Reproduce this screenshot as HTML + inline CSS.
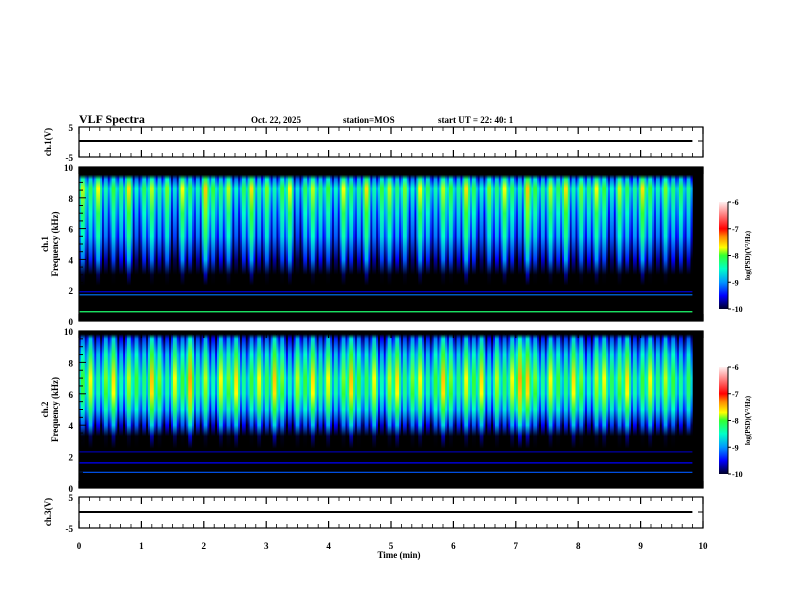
<!DOCTYPE html>
<html><head><meta charset="utf-8"><style>
html,body{margin:0;padding:0;background:#fff;}
svg{display:block;font-family:"Liberation Serif",serif;font-weight:bold;}
</style></head><body>
<svg id="chart" width="792" height="612" viewBox="0 0 792 612" xmlns="http://www.w3.org/2000/svg">
<defs id="defs"></defs>
<rect width="792" height="612" fill="#fff"/>
<text x="79" y="123" font-size="12">VLF Spectra</text>
<text x="251" y="123" font-size="9">Oct. 22, 2025</text>
<text x="343" y="123" font-size="9">station=MOS</text>
<text x="438" y="123" font-size="9">start  UT =  22: 40: 1</text>
<g id="g"></g>
</svg>
<script>
const colP1 = [-7.6,-7.9,-7.5,-8.2,-7.8,-8.0,-7.4,-8.3,-7.9,-7.6,-8.1,-7.7,-8.4,-7.5,-7.9,-8.2,-7.3,-7.8,-8.0,-7.6,-8.3,-7.9,-7.4,-8.1,-7.7,-8.2,-7.8,-7.5,-8.4,-7.9,-7.6,-8.0,-7.8,-8.3,-7.5,-7.9,-8.1,-7.4,-8.2,-7.8,-7.6,-8.0,-7.7,-8.3,-7.5,-7.9,-8.2,-7.6,-7.8,-8.1,-7.4,-7.9,-8.3,-7.7,-8.0,-7.5,-7.9,-8.2,-7.3,-7.8,-8.1,-7.6,-7.9,-7.4,-8.2,-7.7,-8.0,-7.5,-7.8,-8.3,-7.6,-7.9,-8.1,-7.4,-7.8,-8.2,-7.7,-8.0,-7.9,-8.1];
const colP2 = [-7.9,-7.6,-8.2,-7.8,-7.5,-8.3,-7.7,-7.9,-8.1,-7.4,-7.8,-8.2,-7.6,-7.9,-7.3,-8.1,-7.7,-8.3,-7.6,-7.8,-7.5,-8.2,-7.9,-7.6,-8.0,-7.4,-7.8,-8.3,-7.7,-7.9,-7.5,-8.1,-7.6,-8.2,-7.8,-7.4,-7.9,-8.0,-7.6,-8.3,-7.7,-7.5,-8.1,-7.8,-7.6,-8.2,-7.9,-7.4,-7.8,-8.1,-7.6,-7.9,-7.5,-8.3,-7.7,-8.0,-7.6,-7.3,-7.4,-7.8,-8.2,-7.6,-7.9,-8.1,-7.5,-7.8,-8.3,-7.7,-7.6,-8.0,-7.8,-7.5,-8.2,-7.9,-7.6,-8.1,-7.7,-7.9,-8.2,-8.0];
const timeTicks = [0,1,2,3,4,5,6,7,8,9,10];
const freqTicks = [0,2,4,6,8,10];
const cbTicks = [-6,-7,-8,-9,-10];
const linesP1 = [[1.9,-9.6],[1.7,-9.1],[0.6,-8.2]];
const linesP2 = [[2.3,-9.7],[1.6,-9.5],[1.0,-9.2]];
const dataEnd = 9.83;

const NS="http://www.w3.org/2000/svg";
const g=document.getElementById('g'), defs=document.getElementById('defs');
const X0=79,X1=703;
const xs=t=>X0+t/10*(X1-X0);
const P1={top:167,bot:321}, P2={top:331,bot:488}, C1={top:127,bot:157,line:141}, C3={top:497,bot:528,line:512};
const fy=(f,p)=>p.bot-f/10*(p.bot-p.top);
const cstops=[[-10,[0,0,40]],[-9.5,[0,0,255]],[-9,[0,150,255]],[-8.5,[0,255,200]],[-8,[50,255,50]],[-7.7,[255,255,0]],[-7.3,[255,140,0]],[-7,[255,0,0]],[-6.5,[255,120,120]],[-6,[255,240,240]]];
function col(v){
  if(v<=-10.3) return 'rgb(0,0,0)';
  if(v<-10){const k=(v+10.3)/0.3;return `rgb(0,0,${Math.round(40*k)})`;}
  if(v>=-6) return 'rgb(255,240,240)';
  for(let i=0;i<cstops.length-1;i++){const a=cstops[i],b=cstops[i+1];
    if(v>=a[0]&&v<=b[0]){const k=(v-a[0])/(b[0]-a[0]);const c=a[1].map((x,j)=>Math.round(x+(b[1][j]-x)*k));return `rgb(${c})`;}}
}
function el(tag,attrs,parent){const e=document.createElementNS(NS,tag);for(const k in attrs)e.setAttribute(k,attrs[k]);(parent||g).appendChild(e);return e;}
function txt(x,y,s,size,anchor,rot){const t=el('text',{x:x,y:y,'font-size':size,'text-anchor':anchor||'start'});if(rot)t.setAttribute('transform',`rotate(${rot} ${x} ${y})`);t.textContent=s;return t;}

function spectro(p,vals,lines,profile,name){
  const bg=el('rect',{x:X0,y:p.top,width:X1-X0,height:p.bot-p.top,fill:'#000'});
  
  
  const dt=dataEnd/vals.length;
  vals.forEach((v,i)=>{
    const idA=name+'a'+i, idB=name+'b'+i;
    const la=el('linearGradient',{id:idA,x1:0,y1:0,x2:0,y2:1},defs);
    const lb=el('linearGradient',{id:idB,x1:0,y1:0,x2:0,y2:1},defs);
    profile.forEach(([f,d])=>{const o=(fy(f,p)-p.top)/(p.bot-p.top);
      el('stop',{offset:o,'stop-color':col(v+d-0.6)},la);
      el('stop',{offset:o,'stop-color':col(v+d)},lb);});
    const x=xs(i*dt), w=xs((i+1)*dt)-xs(i*dt);
    const r=el('rect',{x:x,y:p.top,width:w+0.3,height:p.bot-p.top,fill:`url(#${idA})`});
    
    
    const s=el('rect',{x:x+w*0.25,y:p.top,width:w*0.5,height:p.bot-p.top,fill:`url(#${idB})`});
    
    
  });
  lines.forEach(([f,v])=>{const l=el('line',{x1:X0,x2:xs(dataEnd),y1:fy(f,p),y2:fy(f,p),stroke:col(v),'stroke-width':1.2});
    
    });
}
const prof1=[[10,-9],[9.5,-9],[9.2,-0.8],[8.6,-0.2],[7,-0.6],[5.5,-0.9],[4,-1.5],[3,-2.4],[2.3,-3],[0,-3]];
const prof2=[[10,-9],[9.8,-9],[9.5,-1.2],[8.5,-0.6],[7,-0.1],[6,-0.2],[5,-0.6],[4,-1.3],[3.3,-2.3],[2.5,-3],[0,-3]];
spectro(P1,colP1,linesP1,prof1,'spectrogram-ch1');
spectro(P2,colP2,linesP2,prof2,'spectrogram-ch2');

function frame(p,name){
  const r=el('rect',{x:X0,y:p.top,width:X1-X0,height:p.bot-p.top,fill:'none',stroke:'#000','stroke-width':1.2});
  
  
  for(let m=0;m<=60;m++){const t=m/6,x=xs(t),maj=m%6===0,L=maj?7:4;
    el('line',{x1:x,x2:x,y1:p.top,y2:p.top+L,stroke:'#000','stroke-width':maj?1.2:0.8});
    el('line',{x1:x,x2:x,y1:p.bot,y2:p.bot-L,stroke:'#000','stroke-width':maj?1.2:0.8});}
}
[[C1,'ch1'],[C3,'ch3']].forEach(([p,n])=>{
  const l=el('line',{x1:X0,x2:xs(dataEnd),y1:p.line,y2:p.line,stroke:'#000','stroke-width':2});
  
  
  frame(p,n);
  txt(X0-6,p.top+4,'5',9,'end');txt(X0-6,p.bot+4,'-5',9,'end');
  el('line',{x1:X0,x2:X0+5,y1:p.line,y2:p.line,stroke:'#000'});el('line',{x1:X1,x2:X1-5,y1:p.line,y2:p.line,stroke:'#000'});
});
txt(51,142,'ch.1(V)',9,'middle',-90);
txt(51,512,'ch.3(V)',9,'middle',-90);
[[P1,'ch.1','spectrogram-ch1'],[P2,'ch.2','spectrogram-ch2']].forEach(([p,lab,n])=>{
  frame(p,n);
  freqTicks.forEach(f=>{const y=fy(f,p);txt(X0-6,y+4,String(f),9,'end');});
  for(let f=0;f<=10;f+=0.5){const y=fy(f,p),L=f%2===0?7:4;
    el('line',{x1:X0,x2:X0+L,y1:y,y2:y,stroke:'#000'});el('line',{x1:X1,x2:X1-L,y1:y,y2:y,stroke:'#000'});}
  const cy=(p.top+p.bot)/2;
  txt(48,cy,lab,9,'middle',-90);txt(58,cy,'Frequency (kHz)',9,'middle',-90);
});
timeTicks.forEach(t=>{txt(xs(t),549,String(t),9,'middle');});
const xt=txt(399,558,'Time  (min)',9,'middle');

[[202,'colorbar-ch1'],[367,'colorbar-ch2']].forEach(([top,n],k)=>{
  const h=107,x=719,w=9,id='cb'+k;
  const lg=el('linearGradient',{id:id,x1:0,y1:1,x2:0,y2:0},defs);
  for(let v=-10;v<=-6.001;v+=0.1){el('stop',{offset:(v+10)/4,'stop-color':col(v+0.0001)},lg);}
  el('stop',{offset:1,'stop-color':col(-6)},lg);
  const r=el('rect',{x:x,y:top,width:w,height:h,fill:`url(#${id})`});
  
  
  el('line',{x1:x+w,x2:x+w,y1:top,y2:top+h,stroke:'#000'});
  cbTicks.forEach(v=>{const y=top+h-(v+10)/4*h;el('line',{x1:x+w,x2:x+w+3,y1:y,y2:y,stroke:'#000'});txt(x+w+4,y+3,String(v),8,'start');});
  txt(750,top+h/2,'log(PSD)(V²/Hz)',7,'middle',-90);
});
</script>
</body></html>
